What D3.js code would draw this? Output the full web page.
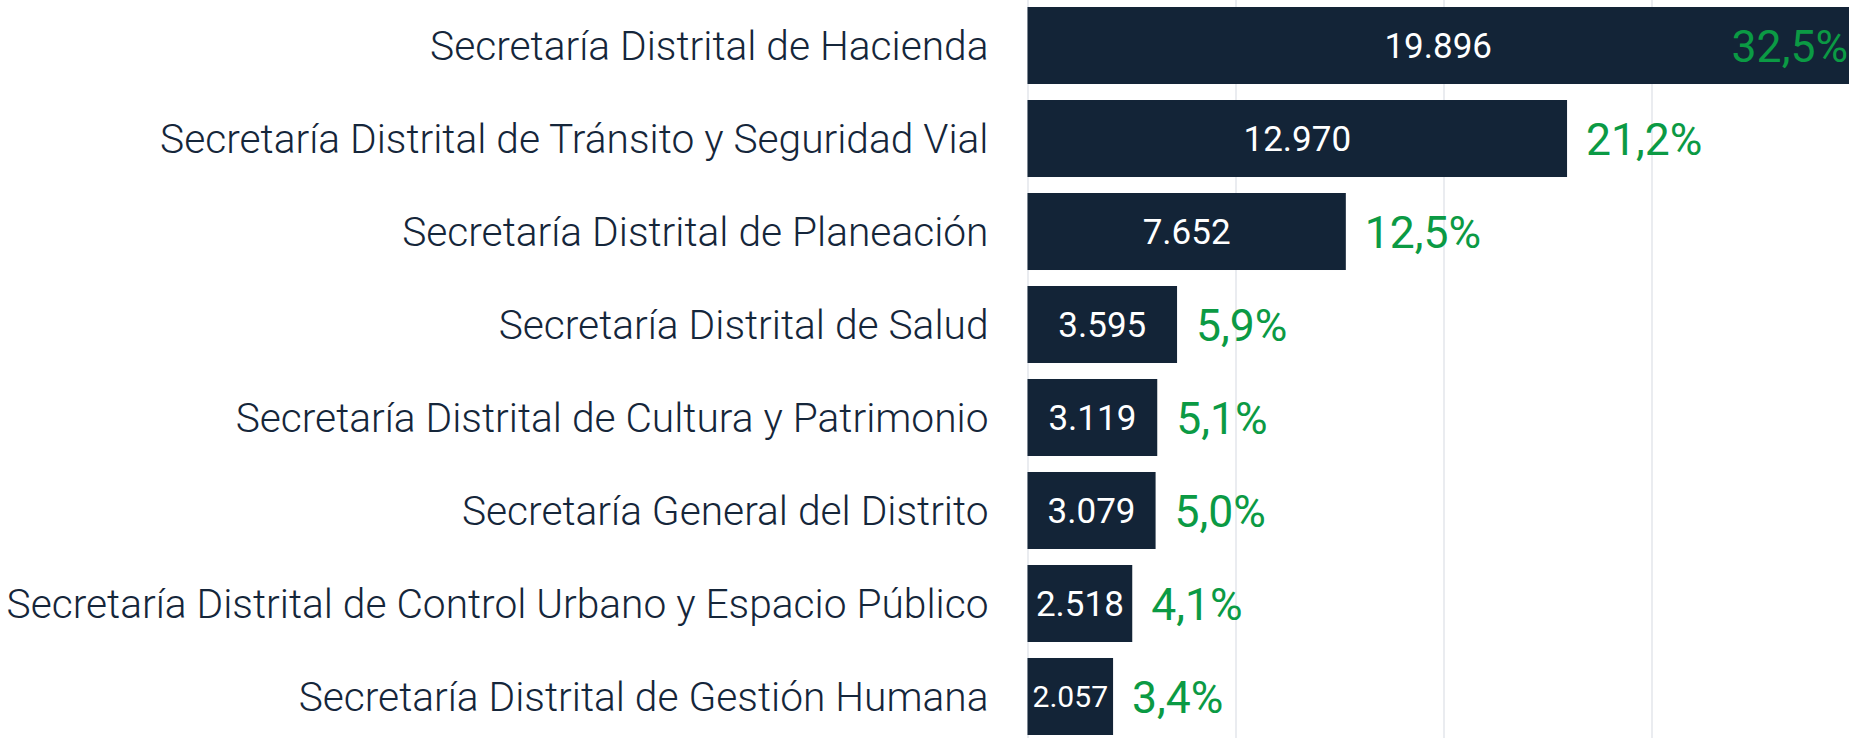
<!DOCTYPE html>
<html>
<head>
<meta charset="utf-8">
<script src="https://cdn.jsdelivr.net/npm/d3@7"></script>
<style>
    body { margin: 0; background: #fff; }
    #chart { width: 1849px; height: 738px; overflow: hidden; }
    .cat-axis text { font-family: Roboto, "Open Sans", sans-serif; font-weight: 300; font-size: 40.7px; fill: #15263a; }
    .bar-value { font-family: Roboto, sans-serif; font-weight: 400; fill: #ffffff; }
    .bar-share { font-family: Roboto, sans-serif; font-weight: 400; font-size: 44.5px; fill: #0b9a44; }
</style>
</head>
<body>
<div id="chart"></div>
<script>
// chart data
const categories = [
    "Secretaría Distrital de Hacienda",
    "Secretaría Distrital de Tránsito y Seguridad Vial",
    "Secretaría Distrital de Planeación",
    "Secretaría Distrital de Salud",
    "Secretaría Distrital de Cultura y Patrimonio",
    "Secretaría General del Distrito",
    "Secretaría Distrital de Control Urbano y Espacio Público",
    "Secretaría Distrital de Gestión Humana"
];
const values = [19896, 12970, 7652, 3595, 3119, 3079, 2518, 2057];
const shares = [32.5, 21.2, 12.5, 5.9, 5.1, 5.0, 4.1, 3.4];
const gridTicks = [0, 5000, 10000, 15000, 20000];

// spanish number format: 19.896 / 32,5%
const locale = d3.formatLocale({decimal: ",", thousands: ".", grouping: [3], currency: ["$", ""]});
const fmtValue = locale.format(",d");
const fmtShare = (d) => locale.format(".1f")(d) + "%";


class BarChart {
    constructor(parentElement) {
        this.parentElement = parentElement;
        this.initVis();
    }

    initVis() {
        let vis = this;

        vis.width = 1849;
        vis.height = 738;
        vis.axisX = 1027.5;

        vis.svg = d3.select("#" + vis.parentElement).append("svg")
            .attr("width", vis.width)
            .attr("height", vis.height);

        // value axis runs past the right edge, so the top bar is cut off
        vis.x = d3.scaleLinear()
            .domain([0, 20000])
            .range([vis.axisX, vis.axisX + 832]);

        vis.y = d3.scaleBand()
            .domain(categories)
            .range([7, 735])
            .paddingInner(0.172)
            .paddingOuter(0);

        vis.wrangleData();
    }

    wrangleData() {
        let vis = this;

        vis.displayData = categories.map((c, i) => ({
            category: c,
            value: values[i],
            share: shares[i]
        }));

        vis.updateVis();
    }

    updateVis() {
        let vis = this;

        // gridlines
        let grid = vis.svg.append("g")
            .attr("class", "grid")
            .attr("transform", `translate(0, ${vis.height})`)
            .call(d3.axisBottom(vis.x).tickValues(gridTicks).tickSize(-vis.height).tickFormat(""));
        grid.select(".domain").remove();
        grid.selectAll("line").attr("stroke", "#e3e6eb").attr("stroke-width", 1.5);

        // category labels
        let catAxis = vis.svg.append("g")
            .attr("class", "cat-axis")
            .attr("transform", `translate(${vis.axisX}, 0)`)
            .call(d3.axisLeft(vis.y).tickSize(0).tickPadding(39));
        catAxis.select(".domain").remove();
        catAxis.selectAll("text").attr("dy", "0.35em");

        // bars
        vis.svg.append("g")
            .attr("class", "bars")
            .selectAll("rect")
            .data(vis.displayData)
            .enter()
            .append("rect")
            .attr("x", vis.x(0))
            .attr("y", (d) => vis.y(d.category))
            .attr("width", (d) => vis.x(d.value) - vis.x(0))
            .attr("height", vis.y.bandwidth())
            .attr("fill", "#132437");

        // value labels, shrunk when the bar is too narrow
        vis.svg.append("g")
            .selectAll("text")
            .data(vis.displayData)
            .enter()
            .append("text")
            .attr("class", "bar-value")
            .attr("x", (d) => (vis.x(0) + Math.min(vis.x(d.value), vis.width)) / 2)
            .attr("y", (d) => vis.y(d.category) + vis.y.bandwidth() / 2)
            .attr("dy", "0.35em")
            .attr("text-anchor", "middle")
            .style("font-size", "35px")
            .text((d) => fmtValue(d.value))
            .each(function(d) {
                let room = vis.x(d.value) - vis.x(0) - 10;
                let len = this.getComputedTextLength();
                if (len > room) d3.select(this).style("font-size", (35 * room / len) + "px");
            });

        // share labels, kept inside the picture
        vis.svg.append("g")
            .selectAll("text")
            .data(vis.displayData)
            .enter()
            .append("text")
            .attr("class", "bar-share")
            .attr("x", (d) => vis.x(d.value) + 19)
            .attr("y", (d) => vis.y(d.category) + vis.y.bandwidth() / 2)
            .attr("dy", "0.36em")
            .text((d) => fmtShare(d.share))
            .each(function(d) {
                let len = this.getComputedTextLength();
                let x0 = vis.x(d.value) + 19;
                if (x0 + len > vis.width - 1) d3.select(this).attr("x", vis.width - 1 - len);
            });
    }
}

new BarChart("chart");
</script>
</body>
</html>
